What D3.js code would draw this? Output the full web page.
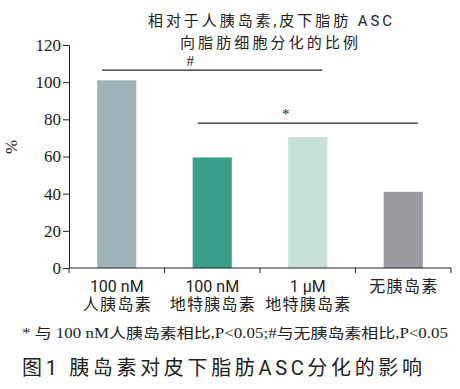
<html>
<head>
<meta charset="utf-8">
<script src="https://d3js.org/d3.v7.min.js"></script>
<style>
  body { margin: 0; background: #fff; }
  text { fill: #222; }
</style>
</head>
<body>
<svg id="chart" width="460" height="389"></svg>
<script>
// chart values
const categories = ["100 nM|人胰岛素", "100 nM|地特胰岛素", "1 μM|地特胰岛素", "无胰岛素"];
const values = [101, 59.5, 70.5, 41];
const barColors = ["#9fb2b7", "#3a9f89", "#c9e0d8", "#9a9ca2"];
const yTicks = [0, 20, 40, 60, 80, 100, 120];
const sigFrom = [0, 1];
const sigTo = [2, 3];
const sigLevel = [106.5, 78];
const sigMark = ["#", "*"];
const titleLines = ["相对于人胰岛素,皮下脂肪 ASC", "向脂肪细胞分化的比例"];
const footnote = "* 与 100 nM人胰岛素相比,P<0.05;#与无胰岛素相比,P<0.05";
const caption = "图1 胰岛素对皮下脂肪ASC分化的影响";

const svg = d3.select("#chart");
const sans = "Roboto, 'Liberation Sans', 'Noto Sans CJK SC', sans-serif";
const serif = "'Liberation Serif', 'Noto Sans CJK SC', serif";

const x = d3.scaleBand().domain(categories).range([69, 451])
            .paddingInner(0.59).paddingOuter(0.295);
const y = d3.scaleLinear().domain([0, 120]).range([268, 45]);

// bars
svg.selectAll("rect.bar").data(values).join("rect")
   .attr("class", "bar")
   .attr("x", (d, i) => x(categories[i]))
   .attr("width", x.bandwidth())
   .attr("y", d => y(d))
   .attr("height", d => y(0) - y(d))
   .attr("fill", (d, i) => barColors[i]);

// y axis
const yAxis = svg.append("g").attr("transform", "translate(69,0)")
   .call(d3.axisLeft(y).tickValues(yTicks).tickSize(6).tickPadding(2));
yAxis.select(".domain").attr("stroke", "#222");
yAxis.selectAll(".tick line").attr("stroke", "#222");
yAxis.selectAll(".tick text").style("font", "17px " + serif).attr("fill", "#222");

// x axis: line with ticks at band boundaries
const step = x.step();
const bounds = categories.map((c, i) => x.range()[0] + step * (i + 1));
svg.append("line").attr("x1", 69).attr("x2", 451).attr("y1", y(0)).attr("y2", y(0))
   .attr("stroke", "#222");
svg.selectAll("line.xtick").data([69].concat(bounds)).join("line")
   .attr("class", "xtick")
   .attr("x1", d => d).attr("x2", d => d)
   .attr("y1", y(0)).attr("y2", y(0) + 5)
   .attr("stroke", "#222");

// x labels
categories.forEach((c, i) => {
  const cx = x(c) + x.bandwidth() / 2;
  const parts = c.split("|");
  parts.forEach((p, j) => {
    const t = svg.append("text").attr("x", cx).attr("y", 291.5 + j * 18.5)
       .attr("text-anchor", "middle").style("font", "16px " + sans).text(p);
    if (/[\u4e00-\u9fff]/.test(p)) t.attr("textLength", p.length * 17).attr("lengthAdjust", "spacing");
  });
});

// y label
svg.append("text").attr("transform", "translate(17,147) rotate(-90)")
   .attr("text-anchor", "middle").style("font", "17px " + serif).text("%");

// significance brackets
sigFrom.forEach((f, i) => {
  const x0 = x(categories[f]) + 5;
  const x1 = x(categories[sigTo[i]]) + x.bandwidth() - 5;
  svg.append("line").attr("x1", x0).attr("x2", x1)
     .attr("y1", y(sigLevel[i])).attr("y2", y(sigLevel[i]))
     .attr("stroke", "#222").attr("stroke-width", 1.2);
  svg.append("text").attr("x", x0 + (x1 - x0) * 0.4).attr("y", y(sigLevel[i]) - 4)
     .attr("text-anchor", "middle").style("font", "15px " + serif).text(sigMark[i]);
});

// title
svg.append("text").attr("x", 270).attr("y", 26).attr("text-anchor", "middle")
   .attr("textLength", 244).attr("lengthAdjust", "spacing")
   .style("font", "15px " + sans).text(titleLines[0]);
svg.append("text").attr("x", 269).attr("y", 48).attr("text-anchor", "middle")
   .attr("textLength", 178).attr("lengthAdjust", "spacing")
   .style("font", "15px " + sans).text(titleLines[1]);

// footnote and caption
svg.append("text").attr("x", 22).attr("y", 338)
   .attr("textLength", 426).attr("lengthAdjust", "spacingAndGlyphs")
   .style("font", "14px " + serif).text(footnote);
svg.append("text").attr("x", 22).attr("y", 375)
   .attr("textLength", 400).attr("lengthAdjust", "spacing")
   .style("font", "20px " + sans).text(caption);
</script>
</body>
</html>
